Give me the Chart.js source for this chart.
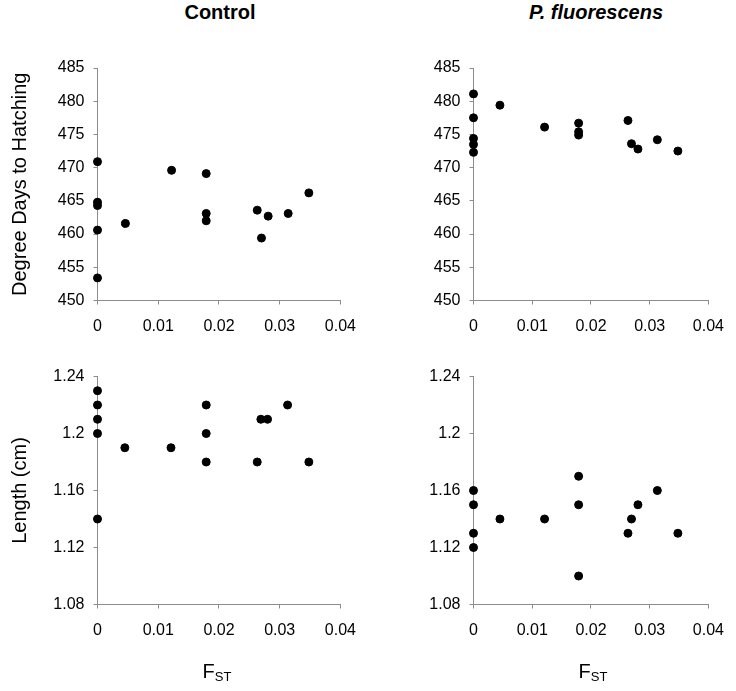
<!DOCTYPE html>
<html>
<head>
<meta charset="utf-8">
<script src="https://cdn.jsdelivr.net/npm/chart.js@4.4.1/dist/chart.umd.min.js"></script>
<style>
    body { margin: 0; background: #fff; }
    #wrap { position: relative; width: 736px; height: 691px; font-family: "Liberation Sans", Arial, sans-serif; color: #000; }
    canvas { position: absolute; }
    .head { position: absolute; top: 1px; font-size: 20px; font-weight: bold; transform: translateX(-50%); white-space: nowrap; }
    .xlab { position: absolute; top: 660px; font-size: 20px; transform: translateX(-50%); white-space: nowrap; }
    .xlab sub { font-size: 13px; vertical-align: -3px; }
</style>
</head>
<body>
<div id="wrap">
    <div class="head" style="left:220px">Control</div>
    <div class="head" style="left:596px"><i>P. fluorescens</i></div>
    <canvas id="tl" width="368" height="345" style="left:0;top:0"></canvas>
    <canvas id="tr" width="368" height="345" style="left:368px;top:0"></canvas>
    <canvas id="bl" width="368" height="346" style="left:0;top:345px"></canvas>
    <canvas id="br" width="368" height="346" style="left:368px;top:345px"></canvas>
    <div class="xlab" style="left:217px">F<sub>ST</sub></div>
    <div class="xlab" style="left:593px">F<sub>ST</sub></div>
</div>
<script>
// F_ST of each family (x) and the measured trait (y)
const ctrlDaysFst = [0, 0, 0, 0, 0, 0.0046, 0.0122, 0.0179, 0.0179, 0.0179, 0.0263, 0.027, 0.0281, 0.0314, 0.0348];
const ctrlDays = [470.9, 464.8, 464.3, 460.6, 453.4, 461.6, 469.6, 469.1, 463.1, 462.0, 463.6, 459.4, 462.7, 463.1, 466.2];

const fluoDaysFst = [0, 0, 0, 0, 0, 0.0045, 0.0121, 0.0179, 0.0179, 0.0179, 0.0263, 0.0269, 0.028, 0.0313, 0.0348];
const fluoDays = [481.1, 477.5, 474.4, 473.5, 472.3, 479.4, 476.1, 476.7, 475.4, 474.9, 477.1, 473.6, 472.8, 474.2, 472.5];

const ctrlLenFst = [0, 0, 0, 0, 0, 0.0045, 0.0121, 0.0179, 0.0179, 0.0179, 0.0263, 0.0269, 0.028, 0.0313, 0.0348];
const ctrlLen = [1.23, 1.22, 1.21, 1.20, 1.14, 1.19, 1.19, 1.22, 1.20, 1.18, 1.18, 1.21, 1.21, 1.22, 1.18];

const fluoLenFst = [0, 0, 0, 0, 0.0045, 0.0121, 0.0179, 0.0179, 0.0179, 0.0263, 0.0269, 0.028, 0.0313, 0.0348];
const fluoLen = [1.16, 1.15, 1.13, 1.12, 1.14, 1.14, 1.17, 1.15, 1.10, 1.13, 1.14, 1.15, 1.16, 1.13];

const fstTicks = [0, 0.01, 0.02, 0.03, 0.04];
const fstLabels = ["0", "0.01", "0.02", "0.03", "0.04"];
const daysTicks = [450, 455, 460, 465, 470, 475, 480, 485];
const daysLabels = ["450", "455", "460", "465", "470", "475", "480", "485"];
const lenTicks = [1.08, 1.12, 1.16, 1.2, 1.24];
const lenLabels = ["1.08", "1.12", "1.16", "1.2", "1.24"];

const fontFam = "'Liberation Sans', Arial, sans-serif";
const axisGrey = "#8c8c8c";

function panel(id, xs, ys, yTicks, yLabels, yTitle, lay) {
    const pts = [];
    for (let i = 0; i < xs.length; i++) {
        pts.push({ x: xs[i], y: ys[i] });
    }
    new Chart(document.getElementById(id), {
        type: "scatter",
        data: {
            datasets: [{
                data: pts,
                backgroundColor: "#000",
                borderColor: "#000",
                pointRadius: 4,
                pointHoverRadius: 4,
                clip: false,
            }],
        },
        options: {
            responsive: false,
            animation: false,
            events: [],
            layout: { padding: { left: 0, top: lay.top, right: lay.right, bottom: 0 } },
            plugins: { legend: { display: false }, tooltip: { enabled: false } },
            scales: {
                x: {
                    type: "linear",
                    min: fstTicks[0],
                    max: fstTicks[fstTicks.length - 1],
                    afterBuildTicks: function(s) { s.ticks = fstTicks.map(v => ({ value: v })); },
                    afterFit: function(s) { s.height = lay.xh; },
                    ticks: {
                        callback: (v, i) => fstLabels[i],
                        font: { size: 16, family: fontFam },
                        color: "#000",
                        padding: 12,
                        maxRotation: 0,
                        autoSkip: false,
                    },
                    grid: { drawOnChartArea: false, tickLength: 4, color: axisGrey },
                    border: { color: axisGrey, width: 1 },
                },
                y: {
                    type: "linear",
                    min: yTicks[0],
                    max: yTicks[yTicks.length - 1],
                    afterBuildTicks: function(s) { s.ticks = yTicks.map(v => ({ value: v })); },
                    afterFit: function(s) { s.width = lay.yw; },
                    ticks: {
                        callback: (v, i) => yLabels[i],
                        font: { size: 16, family: fontFam },
                        color: "#000",
                        padding: 9,
                        autoSkip: false,
                    },
                    grid: { drawOnChartArea: false, tickLength: 4, color: axisGrey },
                    border: { color: axisGrey, width: 1 },
                    title: {
                        display: yTitle != "",
                        text: yTitle,
                        font: { size: 20, family: fontFam },
                        color: "#000",
                        padding: { top: 8, bottom: 0 },
                    },
                },
            },
        },
    });
}

panel("tl", ctrlDaysFst, ctrlDays, daysTicks, daysLabels, "Degree Days to Hatching", { top: 68, right: 27, xh: 44.5, yw: 97.5 });
panel("tr", fluoDaysFst, fluoDays, daysTicks, daysLabels, "", { top: 68, right: 20, xh: 44.5, yw: 105.5 });
panel("bl", ctrlLenFst, ctrlLen, lenTicks, lenLabels, "Length (cm)", { top: 31.5, right: 27, xh: 86.5, yw: 97.5 });
panel("br", fluoLenFst, fluoLen, lenTicks, lenLabels, "", { top: 31.5, right: 20, xh: 86.5, yw: 105.5 });
</script>
</body>
</html>
